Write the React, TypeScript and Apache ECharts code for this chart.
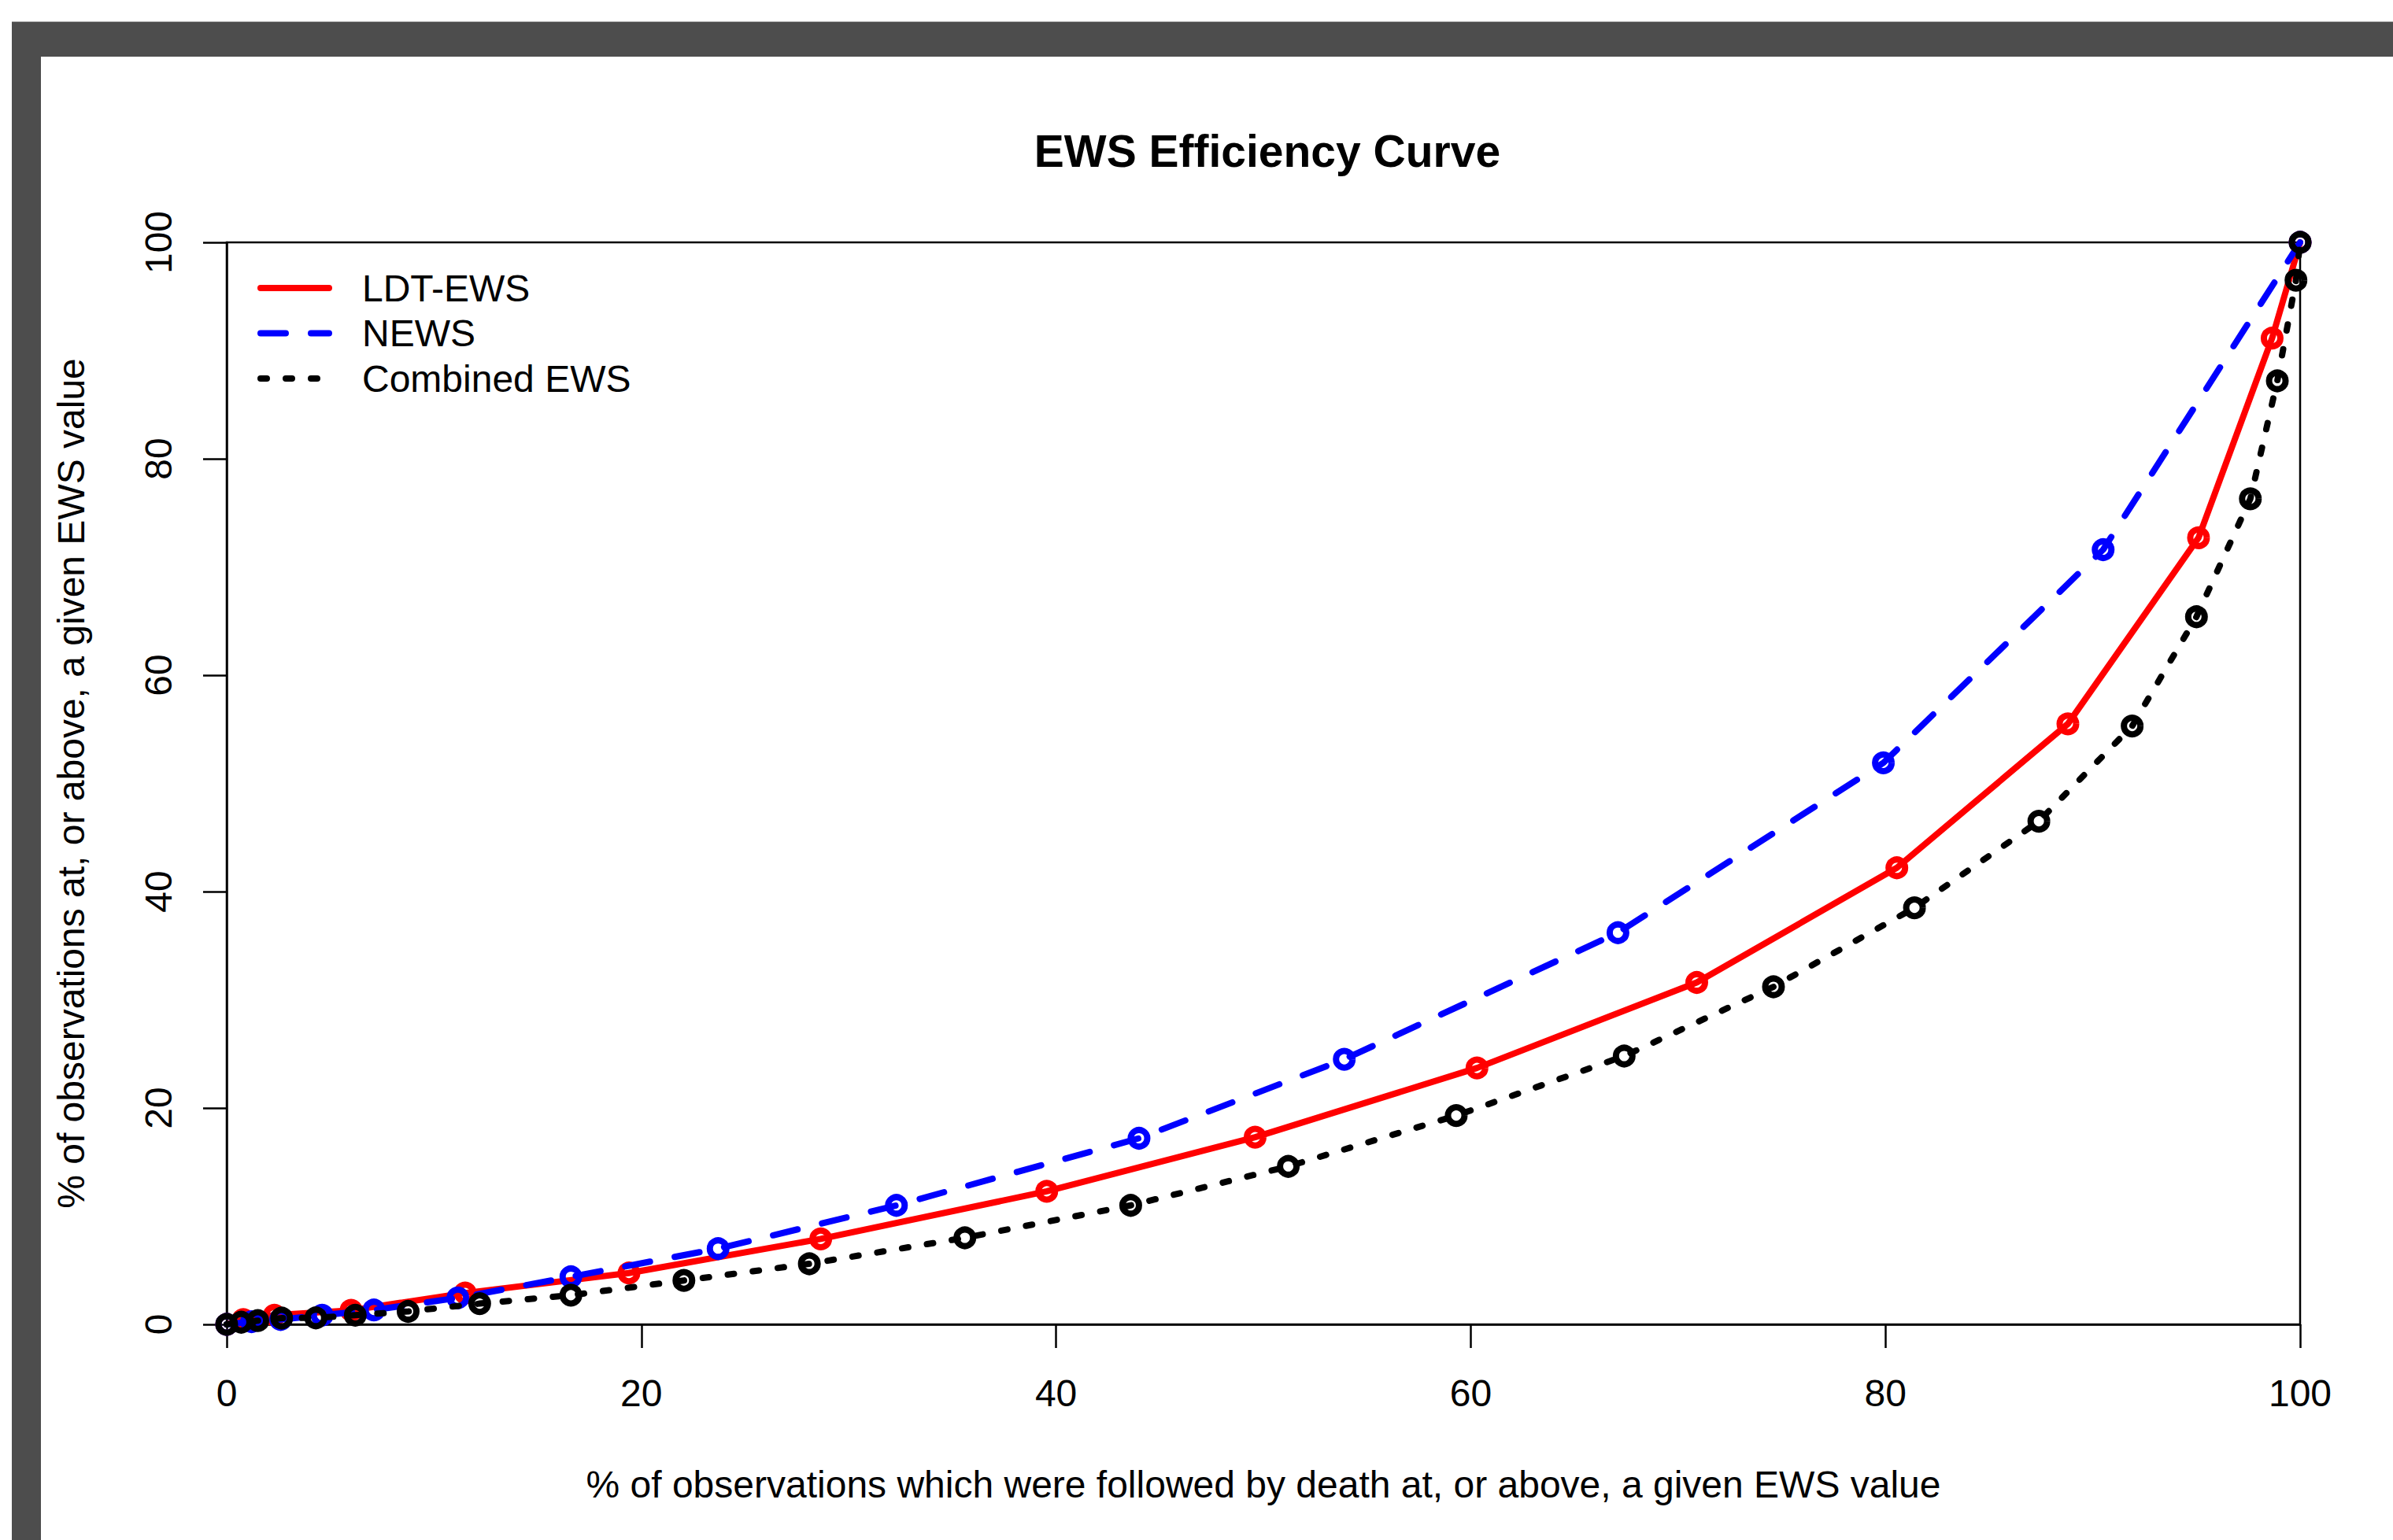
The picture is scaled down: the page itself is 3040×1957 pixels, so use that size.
import React, { useEffect, useRef } from 'react';
import * as echarts from 'echarts';

// ---- data ----
const xTicks = [0, 20, 40, 60, 80, 100];
const seriesNames = ['LDT-EWS', 'NEWS', 'Combined EWS'];
const seriesColors = ['#ff0000', '#0000ff', '#000000'];

const ldtX = [0, 0.8, 2.3, 6.0, 11.5, 19.4, 28.65, 39.55, 49.6, 60.3, 70.9, 80.55, 88.8, 95.1, 98.65, 100];
const ldtY = [0, 0.45, 0.85, 1.3, 2.9, 4.75, 7.9, 12.3, 17.3, 23.7, 31.6, 42.2, 55.5, 72.7, 91.15, 100];

const newsX = [0, 1.2, 2.6, 4.6, 7.1, 11.15, 16.6, 23.7, 32.3, 44.0, 53.9, 67.1, 79.9, 90.5, 100];
const newsY = [0, 0.25, 0.45, 0.85, 1.33, 2.45, 4.4, 7.0, 11.0, 17.2, 24.5, 36.2, 51.9, 71.6, 100];

const combX = [0, 0.7, 1.5, 2.65, 4.3, 6.2, 8.75, 12.2, 16.6, 22.05, 28.1, 35.6, 43.6, 51.2, 59.3, 67.4, 74.6, 81.4, 87.4, 91.9, 95.0, 97.6, 98.9, 99.8, 100];
const combY = [0, 0.2, 0.35, 0.58, 0.6, 0.85, 1.2, 1.92, 2.7, 4.06, 5.6, 8.0, 11.0, 14.6, 19.3, 24.8, 31.2, 38.5, 46.5, 55.3, 65.4, 76.3, 87.2, 96.5, 100];

const seriesX = [ldtX, newsX, combX];
const seriesY = [ldtY, newsY, combY];
const seriesDash: (number[] | 'solid')[] = ['solid', [32, 32], [8, 24]];

const titleText = 'EWS Efficiency Curve';
const xName = '% of observations which were followed by death at, or above, a given EWS value';
const yName = '% of observations at, or above, a given EWS value';

const FONT = '"Liberation Sans", Arial, Helvetica, sans-serif';

function pairs(xs: number[], ys: number[]) {
  return xs.map((x, i) => [x, ys[i]]);
}

export default function App() {
  const ref = useRef<HTMLDivElement>(null);

  useEffect(() => {
    document.body.style.margin = '0';
    document.body.style.overflow = 'hidden';
    const chart = echarts.init(ref.current!, null, { renderer: 'svg', width: 3040, height: 1957 });

    const legendRowsY = [366, 423.5, 481];
    const legendGraphics: any[] = [];
    seriesNames.forEach((n, i) => {
      legendGraphics.push({
        type: 'line',
        shape: { x1: 331, y1: legendRowsY[i], x2: 418, y2: legendRowsY[i] },
        style: {
          stroke: seriesColors[i],
          lineWidth: 8,
          lineCap: 'round',
          lineDash: seriesDash[i] === 'solid' ? null : seriesDash[i],
        },
        silent: true,
      });
      legendGraphics.push({
        type: 'text',
        x: 460,
        y: legendRowsY[i],
        style: {
          text: n,
          fontSize: 48,
          fontFamily: FONT,
          fill: '#000',
          verticalAlign: 'middle',
          align: 'left',
        },
        silent: true,
      });
    });

    const axisCommon = {
      type: 'value' as const,
      min: 0,
      max: 100,
      interval: 20,
      splitLine: { show: false },
      axisLine: { show: true, onZero: false, lineStyle: { color: '#000', width: 2.5 } },
      axisTick: { show: true, inside: false, length: 30, lineStyle: { color: '#000', width: 2.5 } },
      nameLocation: 'middle' as const,
      nameTextStyle: { fontSize: 48, fontFamily: FONT, color: '#000' },
    };

    chart.setOption({
      animation: false,
      backgroundColor: 'transparent',
      title: {
        text: titleText,
        left: 1605,
        top: 158,
        textAlign: 'center',
        textStyle: { fontSize: 57, fontWeight: 'bold', fontFamily: FONT, color: '#000' },
      },
      grid: {
        left: 288,
        top: 308,
        width: 2634,
        height: 1375,
        show: true,
        borderColor: '#000',
        borderWidth: 2.5,
        backgroundColor: 'transparent',
        containLabel: false,
      },
      xAxis: {
        ...axisCommon,
        name: xName,
        nameGap: 179,
        axisLabel: {
          fontSize: 48,
          fontFamily: FONT,
          color: '#000',
          margin: 63,
          formatter: (v: number) => (xTicks.includes(v) ? String(v) : ''),
        },
      },
      yAxis: {
        ...axisCommon,
        name: yName,
        nameGap: 174,
        axisLabel: {
          fontSize: 48,
          fontFamily: FONT,
          color: '#000',
          margin: 63,
          rotate: 90,
          formatter: (v: number) => (xTicks.includes(v) ? String(v) : ''),
        },
      },
      graphic: legendGraphics,
      series: seriesNames.map((n, i) => ({
        type: 'line',
        name: n,
        data: pairs(seriesX[i], seriesY[i]),
        symbol: 'circle',
        symbolSize: 21,
        showSymbol: true,
        showAllSymbol: true,
        silent: true,
        clip: true,
        z: 2 + i,
        itemStyle: { color: 'rgba(255,255,255,0)', borderColor: seriesColors[i], borderWidth: 8 },
        lineStyle: {
          color: seriesColors[i],
          width: 8,
          type: seriesDash[i],
          cap: 'round',
          join: 'round',
        },
        emphasis: { disabled: true },
      })),
    });

    return () => chart.dispose();
  }, []);

  return (
    <div style={{ position: 'fixed', left: 0, top: 0, width: 3040, height: 1957, background: '#fff', overflow: 'hidden' }}>
      <div style={{ position: 'absolute', left: 15, top: 27, width: 3025, height: 1, background: '#b3b3b3' }} />
      <div style={{ position: 'absolute', left: 15, top: 28, width: 3025, height: 44, background: '#4d4d4d' }} />
      <div style={{ position: 'absolute', left: 15, top: 28, width: 37, height: 1929, background: '#4d4d4d' }} />
      <div ref={ref} style={{ position: 'absolute', left: 0, top: 0, width: 3040, height: 1957 }} />
    </div>
  );
}
